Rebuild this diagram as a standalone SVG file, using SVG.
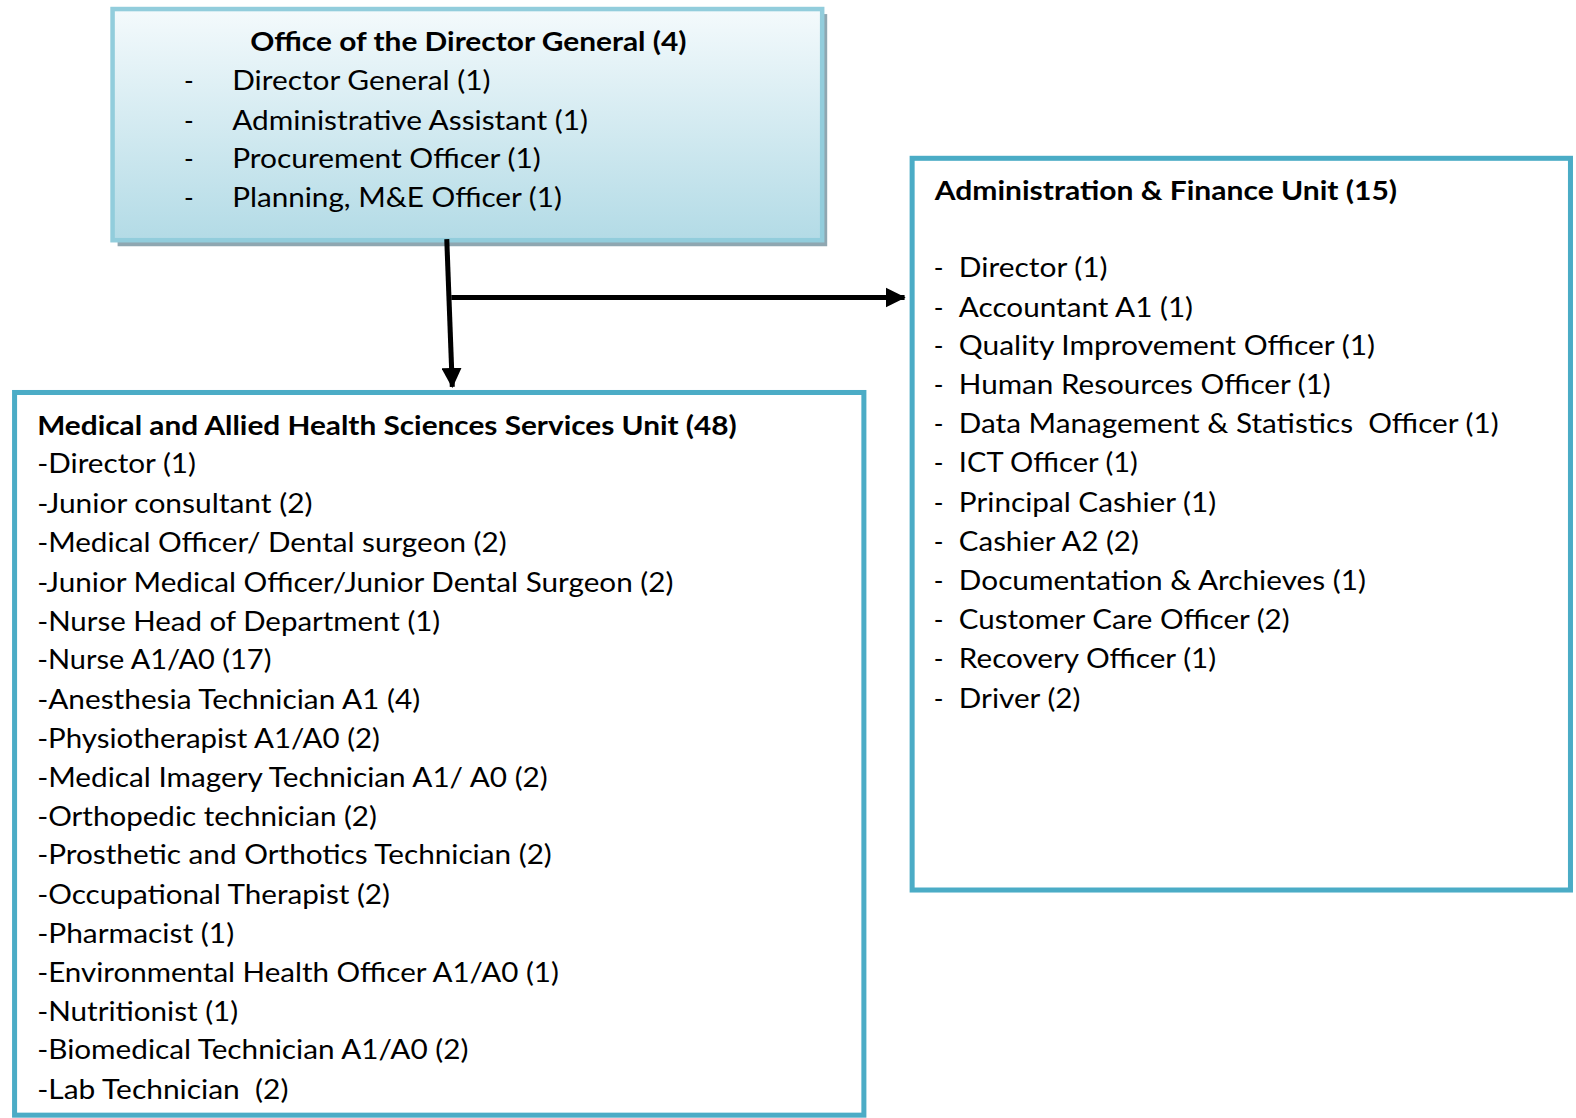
<svg xmlns="http://www.w3.org/2000/svg" width="1576" height="1118" viewBox="0 0 1576 1118">
<defs>
<linearGradient id="topfill" x1="0" y1="0" x2="0" y2="1">
<stop offset="0" stop-color="#F4FAFC"/>
<stop offset="1" stop-color="#B3DBE6"/>
</linearGradient>
<marker id="arr" markerUnits="userSpaceOnUse" markerWidth="20" markerHeight="20" viewBox="0 0 18 18" refX="17" refY="9" orient="auto">
<path d="M0,0 L18,9 L0,18 Z" fill="#000"/>
</marker>
<style>
text{font-family:Lato,"Noto Sans","Liberation Sans",sans-serif;font-size:26px;fill:#000}
.b{font-weight:700}
.box{fill:#fff;stroke:#4BACC6;stroke-width:5}
.conn{stroke:#000;stroke-width:5;fill:none}
</style>
</defs>
<rect width="1576" height="1118" fill="#fff"/>
<g transform="scale(1.0051)">
<g id="office-director-general">
<rect x="117" y="14" width="706" height="231" fill="#8FA7B1"/>
<rect x="112" y="9" width="706" height="230" fill="url(#topfill)" stroke="#92CDDC" stroke-width="4.5"/>
<text class="b" x="249" y="51" textLength="434" lengthAdjust="spacingAndGlyphs">Office of the Director General (4)</text>
<text x="183" y="90">-</text><text x="231" y="90" textLength="257" lengthAdjust="spacingAndGlyphs">Director General (1)</text>
<text x="183" y="129">-</text><text x="231" y="129" textLength="354" lengthAdjust="spacingAndGlyphs">Administrative Assistant (1)</text>
<text x="183" y="167">-</text><text x="231" y="167" textLength="307" lengthAdjust="spacingAndGlyphs">Procurement Officer (1)</text>
<text x="183" y="206">-</text><text x="231" y="206" textLength="328" lengthAdjust="spacingAndGlyphs">Planning, M&amp;E Officer (1)</text>
</g>
<g id="admin-finance-unit">
<rect class="box" x="907.5" y="157.5" width="655" height="728"/>
<text class="b" x="930" y="199" textLength="460" lengthAdjust="spacingAndGlyphs">Administration &amp; Finance Unit (15)</text>
<text x="929" y="276">-</text><text x="954" y="276" textLength="148" lengthAdjust="spacingAndGlyphs">Director (1)</text>
<text x="929" y="315">-</text><text x="954" y="315" textLength="233" lengthAdjust="spacingAndGlyphs">Accountant A1 (1)</text>
<text x="929" y="353">-</text><text x="954" y="353" textLength="414" lengthAdjust="spacingAndGlyphs">Quality Improvement Officer (1)</text>
<text x="929" y="392">-</text><text x="954" y="392" textLength="370" lengthAdjust="spacingAndGlyphs">Human Resources Officer (1)</text>
<text x="929" y="431">-</text><text x="954" y="431" textLength="537" lengthAdjust="spacingAndGlyphs" xml:space="preserve">Data Management &amp; Statistics  Officer (1)</text>
<text x="929" y="470">-</text><text x="954" y="470" textLength="178" lengthAdjust="spacingAndGlyphs">ICT Officer (1)</text>
<text x="929" y="509">-</text><text x="954" y="509" textLength="256" lengthAdjust="spacingAndGlyphs">Principal Cashier (1)</text>
<text x="929" y="548">-</text><text x="954" y="548" textLength="179" lengthAdjust="spacingAndGlyphs">Cashier A2 (2)</text>
<text x="929" y="587">-</text><text x="954" y="587" textLength="405" lengthAdjust="spacingAndGlyphs">Documentation &amp; Archieves (1)</text>
<text x="929" y="626">-</text><text x="954" y="626" textLength="329" lengthAdjust="spacingAndGlyphs">Customer Care Officer (2)</text>
<text x="929" y="665">-</text><text x="954" y="665" textLength="256" lengthAdjust="spacingAndGlyphs">Recovery Officer (1)</text>
<text x="929" y="704">-</text><text x="954" y="704" textLength="121" lengthAdjust="spacingAndGlyphs">Driver (2)</text>
</g>
<g id="medical-allied-health-unit">
<rect class="box" x="14.5" y="390.5" width="845" height="719"/>
<text class="b" x="37" y="433" textLength="696" lengthAdjust="spacingAndGlyphs">Medical and Allied Health Sciences Services Unit (48)</text>
<text x="37" y="471" textLength="158" lengthAdjust="spacingAndGlyphs">-Director (1)</text>
<text x="37" y="510" textLength="274" lengthAdjust="spacingAndGlyphs">-Junior consultant (2)</text>
<text x="37" y="549" textLength="467" lengthAdjust="spacingAndGlyphs">-Medical Officer/ Dental surgeon (2)</text>
<text x="37" y="589" textLength="633" lengthAdjust="spacingAndGlyphs">-Junior Medical Officer/Junior Dental Surgeon (2)</text>
<text x="37" y="628" textLength="401" lengthAdjust="spacingAndGlyphs">-Nurse Head of Department (1)</text>
<text x="37" y="666" textLength="233" lengthAdjust="spacingAndGlyphs">-Nurse A1/A0 (17)</text>
<text x="37" y="705" textLength="381" lengthAdjust="spacingAndGlyphs">-Anesthesia Technician A1 (4)</text>
<text x="37" y="744" textLength="341" lengthAdjust="spacingAndGlyphs">-Physiotherapist A1/A0 (2)</text>
<text x="37" y="783" textLength="508" lengthAdjust="spacingAndGlyphs">-Medical Imagery Technician A1/ A0 (2)</text>
<text x="37" y="822" textLength="338" lengthAdjust="spacingAndGlyphs">-Orthopedic technician (2)</text>
<text x="37" y="860" textLength="512" lengthAdjust="spacingAndGlyphs">-Prosthetic and Orthotics Technician (2)</text>
<text x="37" y="899" textLength="351" lengthAdjust="spacingAndGlyphs">-Occupational Therapist (2)</text>
<text x="37" y="938" textLength="196" lengthAdjust="spacingAndGlyphs">-Pharmacist (1)</text>
<text x="37" y="977" textLength="519" lengthAdjust="spacingAndGlyphs">-Environmental Health Officer A1/A0 (1)</text>
<text x="37" y="1016" textLength="200" lengthAdjust="spacingAndGlyphs">-Nutritionist (1)</text>
<text x="37" y="1054" textLength="429" lengthAdjust="spacingAndGlyphs">-Biomedical Technician A1/A0 (2)</text>
<text x="37" y="1093" textLength="250" lengthAdjust="spacingAndGlyphs" xml:space="preserve">-Lab Technician  (2)</text>
</g>
<g id="connectors">
<line class="conn" x1="444.5" y1="238" x2="450" y2="385" marker-end="url(#arr)"/>
<line class="conn" x1="449" y1="296" x2="900" y2="296" marker-end="url(#arr)"/>
</g>
</g>
</svg>
